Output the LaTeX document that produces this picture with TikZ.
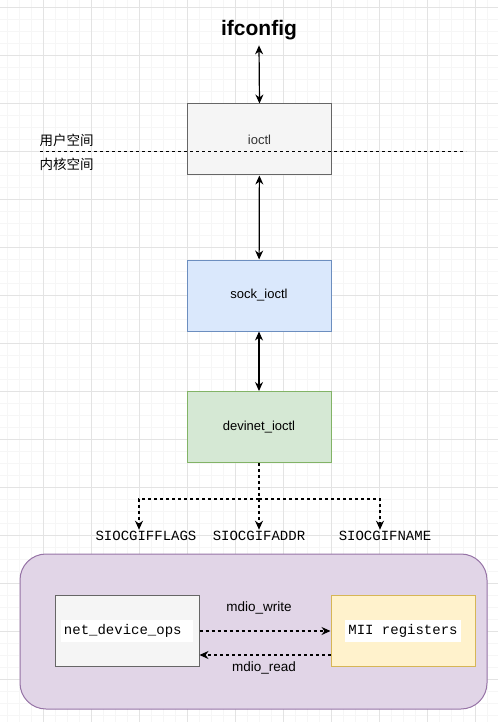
\documentclass[tikz,border=0pt]{standalone}
\usepackage{fontspec}
\setmainfont{Liberation Sans}
\setmonofont{Liberation Mono}
\newfontfamily\cjkfont{Noto Sans CJK SC}
\usetikzlibrary{arrows.meta}
\definecolor{gridmajor}{HTML}{E3E3E3}
\definecolor{gridminor}{HTML}{F6F6F6}
\definecolor{greyfill}{HTML}{F5F5F5}
\definecolor{greyline}{HTML}{666666}
\definecolor{bluefill}{HTML}{DAE8FC}
\definecolor{blueline}{HTML}{6C8EBF}
\definecolor{greenfill}{HTML}{D5E8D4}
\definecolor{greenline}{HTML}{82B366}
\definecolor{purplefill}{HTML}{E1D5E7}
\definecolor{purpleline}{HTML}{9673A6}
\definecolor{yellowfill}{HTML}{FFF2CC}
\definecolor{yellowline}{HTML}{D6B656}
\tikzset{
    callbox/.style={draw, line width=1pt, minimum width=144pt, minimum height=71pt, font=\fontsize{13}{15}\selectfont},
    twoway/.style={{Stealth[length=9pt,width=8pt]}-{Stealth[length=9pt,width=8pt]}, line width=1.2pt},
    oneway/.style={-{Stealth[length=9pt,width=8pt]}, line width=1.2pt, dashed},
    codetext/.style={font=\ttfamily\fontsize{14}{16}\selectfont},
}

\begin{document}
\begin{tikzpicture}[x=1pt, y=-1pt]
    \useasboundingbox (0,0) rectangle (498,722);

    % background grid
    \foreach \gx in {7,19,...,499} \draw[gridminor, line width=0.6pt] (\gx,0) -- (\gx,722);
    \foreach \gy in {7,19,...,722} \draw[gridminor, line width=0.6pt] (0,\gy) -- (498,\gy);
    \foreach \gx in {43,91,...,499} \draw[gridmajor, line width=0.9pt] (\gx,0) -- (\gx,722);
    \foreach \gy in {7,55,...,722} \draw[gridmajor, line width=0.9pt] (0,\gy) -- (498,\gy);

    % outer module frame
    \draw[purpleline, fill=purplefill, line width=1pt, rounded corners=26pt] (20,554) rectangle (487,709);

    \node[font=\bfseries\fontsize{21}{24}\selectfont] (ifconfig) at (259,30) {ifconfig};
    \node[callbox, draw=greyline, fill=greyfill, text=black!80] (ioctl) at (259.5,139.5) {ioctl};
    \node[callbox, draw=blueline, fill=bluefill] (sock) at (259,295.5) {sock\_ioctl};
    \node[callbox, draw=greenline, fill=greenfill] (devinet) at (259,427) {devinet\_ioctl};

    % user / kernel border
    \coordinate (splitL) at (40,152);
    \coordinate (splitR) at (466,152);
    \draw[dashed, line width=1pt] (splitL) -- (splitR);
    \node[font=\cjkfont\fontsize{13.5}{15}\selectfont, anchor=west] (userspace) at (36,140) {用户空间};
    \node[font=\cjkfont\fontsize{13.5}{15}\selectfont, anchor=west] (kernelspace) at (36,164) {内核空间};

    \draw[twoway] (ifconfig.south) ++(0,2) coordinate (ifcfgfoot) -- (ioctl.north);
    \draw[twoway] (ioctl) -- (sock);
    \draw[twoway] (sock) -- (devinet);

    % ioctl commands
    \node[codetext] (flags) at (146,536) {SIOCGIFFLAGS};
    \node[codetext] (addr) at (259,536) {SIOCGIFADDR};
    \node[codetext] (name) at (385,536) {SIOCGIFNAME};
    \coordinate (fork) at (259,499);
    \draw[dashed, line width=1.2pt] (devinet.south) -- (fork);
    \draw[oneway] (fork) -| ([yshift=-2pt]flags.north -| 139,0);
    \draw[oneway] (fork) -- ([yshift=-2pt]addr.north);
    \draw[oneway] (fork) -| ([yshift=-2pt]name.north -| 380,0);

    % mdio access
    \node[callbox, draw=greyline, fill=greyfill, codetext] (ops) at (127,631)
        {\colorbox{white}{net\_device\_ops\ \strut}};
    \node[callbox, draw=yellowline, fill=yellowfill, codetext] (mii) at (403,631)
        {\colorbox{white}{MII registers\strut}};
    \draw[oneway] (ops.east) -- (mii.west);
    \draw[oneway] ([yshift=-24pt]mii.west) -- ([yshift=-24pt]ops.east);
    \node[font=\fontsize{13.5}{15}\selectfont] (mdiowrite) at (259,608) {mdio\_write};
    \node[font=\fontsize{13.5}{15}\selectfont] (mdioread) at (264,668) {mdio\_read};

\end{tikzpicture}
\end{document}
